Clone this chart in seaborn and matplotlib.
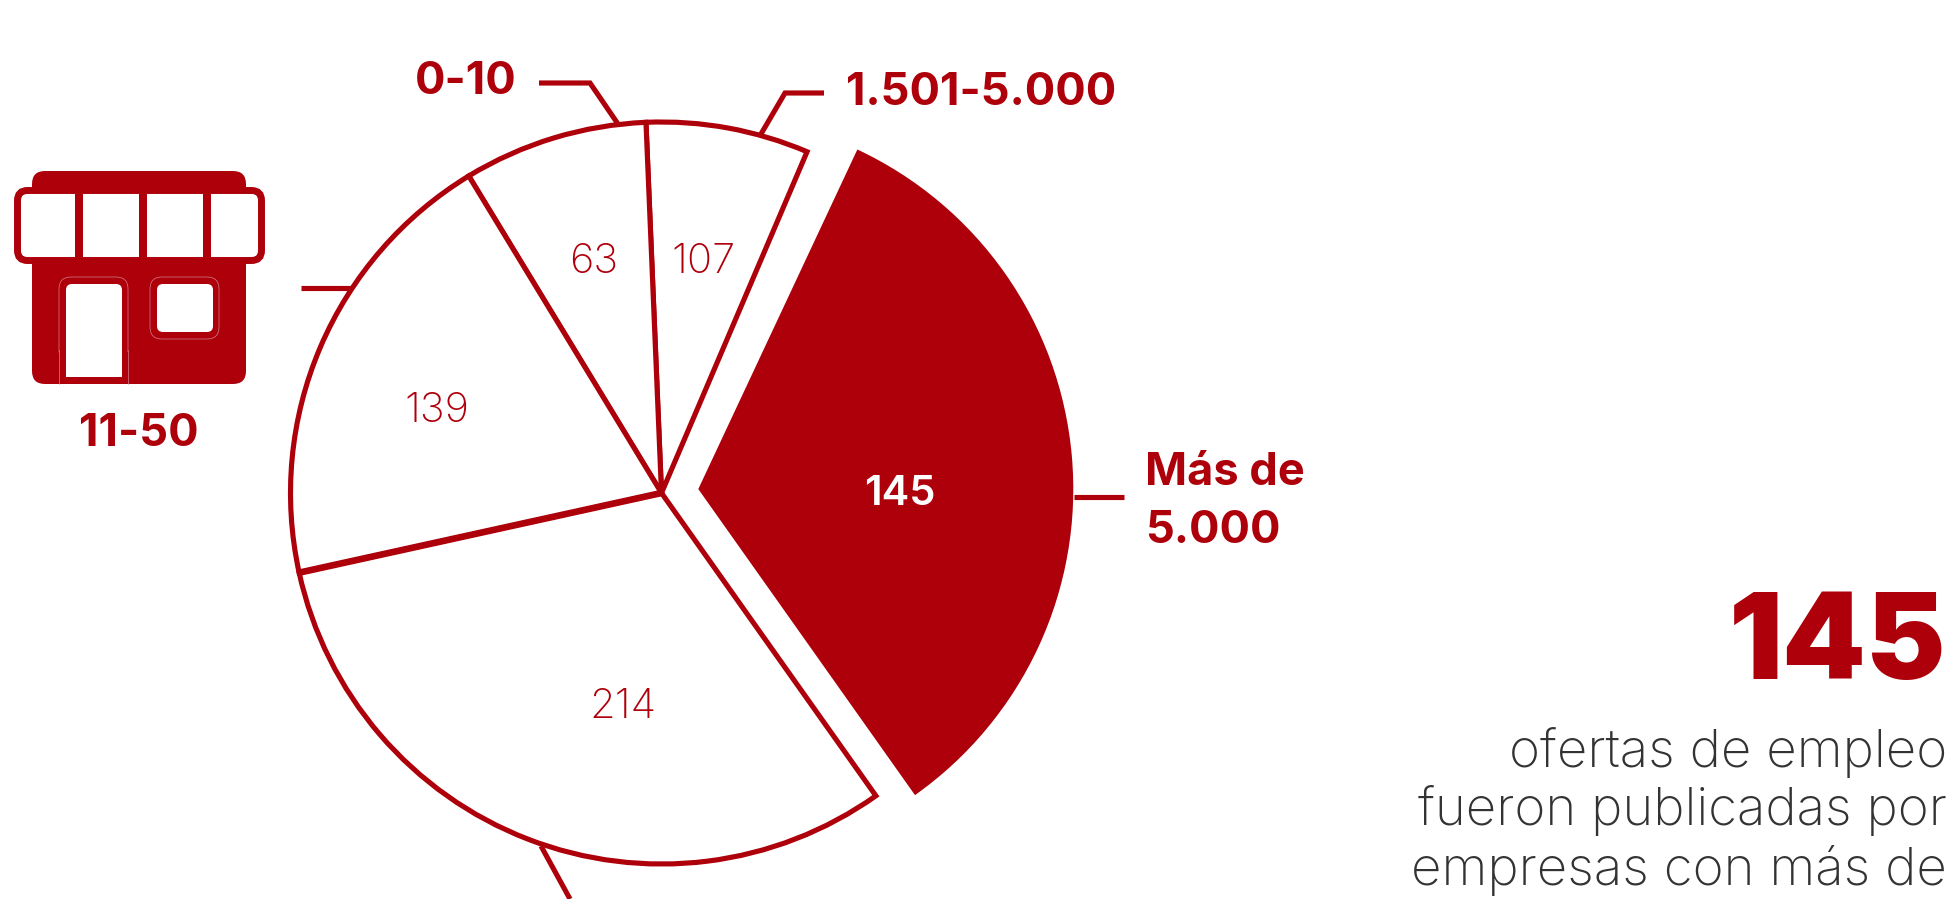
import numpy as np
import pandas as pd
import matplotlib
matplotlib.use('Agg')
import matplotlib.pyplot as plt
from matplotlib.patches import FancyBboxPatch, Rectangle
import seaborn as sns

# values printed on the slices, counterclockwise from the highlighted one
bands = ['Más de\n5.000', '1.501-5.000', '0-10', '11-50', '51-200']
offers = [145, 107, 63, 139, 214]
# the slices in the reference are not proportional to the printed numbers,
# so their share of the circle is read off the picture (degrees)
sweep_deg = [121.6, 25.5, 28.9, 71.1, 112.9]

RED = '#ae000a'
GREY = '#333333'
PINK = '#d9808a'
FONT = 'Inter'

sns.set_theme(style='white')
plt.rcParams['font.family'] = [FONT, 'DejaVu Sans']

W, H = 1948, 899
fig = plt.figure(figsize=(W / 100, H / 100), dpi=100, facecolor='white')
ax = fig.add_axes([0, 0, 1, 1])


def py(y):
    # picture rows run downwards, the axes run upwards
    return H - y


CX, CY, R = 661.5, py(493), 371
START = -54.7

df = pd.DataFrame({'band': bands, 'offers': offers, 'sweep': sweep_deg})
wedges, _ = ax.pie(df['sweep'], explode=[37, 0, 0, 0, 0], center=(CX, CY), radius=R,
                   startangle=START, counterclock=True, frame=True,
                   colors=[RED] + ['white'] * 4,
                   wedgeprops={'edgecolor': RED, 'linewidth': 3.7, 'joinstyle': 'miter'})
# highlighted slice: no outline, a bit bigger, and its top edge stops short of the next slice
wedges[0].set_linewidth(0)
wedges[0].set_radius(375)
wedges[0].set_theta2(64.9)

# spoke between 139 and 214 is drawn heavier in the reference
spoke = np.deg2rad(START + sum(sweep_deg[:4]))
ax.plot([CX, CX + R * np.cos(spoke)], [CY, CY + R * np.sin(spoke)], color=RED, lw=4.8,
        solid_capstyle='butt')

ax.set_xlim(0, W)
ax.set_ylim(0, H)
ax.set_aspect('equal')
ax.axis('off')

# numbers inside slices
ax.text(900, py(494), str(offers[0]), color='white', fontsize=30, fontweight='semibold', ha='center', va='center')
ax.text(703, py(262), str(offers[1]), color=RED, fontsize=30, fontweight='light', ha='center', va='center')
ax.text(594, py(262), str(offers[2]), color=RED, fontsize=30, fontweight='light', ha='center', va='center')
ax.text(437, py(411), str(offers[3]), color=RED, fontsize=30, fontweight='light', ha='center', va='center')
ax.text(623, py(707), str(offers[4]), color=RED, fontsize=30, fontweight='light', ha='center', va='center')

# outside labels and leaders
ax.text(466, py(82), bands[2], color=RED, fontsize=32.5, fontweight='bold', ha='center', va='center')
ax.text(981, py(93), bands[1], color=RED, fontsize=32.5, fontweight='bold', ha='center', va='center')
ax.text(139, py(434), bands[3], color=RED, fontsize=32.5, fontweight='bold', ha='center', va='center')
ax.text(1145, py(502), bands[0], color=RED, fontsize=32.5, fontweight='bold', ha='left', va='center', linespacing=1.46)

leaders = [([539, 590, 618], [83, 83, 124]),
           ([824, 785, 761], [93, 93, 134]),
           ([301, 352], [288, 288]),
           ([1074, 1124], [497, 497]),
           ([541, 570], [846, 899])]
for xs, ys in leaders:
    ax.plot(xs, [py(v) for v in ys], color=RED, lw=3.7, solid_joinstyle='miter', solid_capstyle='butt')

# shop icon
ax.add_patch(FancyBboxPatch((32 + 13, py(384) + 13), 214 - 26, 213 - 26, boxstyle='round,pad=13', fc=RED, ec='none'))
ax.add_patch(FancyBboxPatch((17.5 + 10, py(260.5) + 10), 244 - 20, 70 - 20, boxstyle='round,pad=10', fc='white', ec=RED, lw=5))
for x in (79, 143, 207):
    ax.add_patch(Rectangle((x - 4.3, py(262)), 8.6, 72, fc=RED, ec='none'))
# thin outlines round the door and window
ax.add_patch(FancyBboxPatch((59 + 12, py(350)), 69 - 24, 61, boxstyle='round,pad=12', fc='none', ec=PINK, lw=0.5))
ax.add_patch(Rectangle((59, py(372)), 69, 20, fc=RED, ec='none'))
ax.plot([59, 59], [py(384), py(350)], color=PINK, lw=0.5)
ax.plot([128, 128], [py(384), py(350)], color=PINK, lw=0.5)
ax.add_patch(FancyBboxPatch((150 + 12, py(339) + 12), 69 - 24, 62 - 24, boxstyle='round,pad=12', fc='none', ec=PINK, lw=0.5))
# door and window
ax.add_patch(FancyBboxPatch((66 + 6, py(377) + 6), 56 - 12, 93 - 12, boxstyle='round,pad=6', fc='white', ec='none'))
ax.add_patch(Rectangle((66, py(377)), 56, 20, fc='white', ec='none'))
ax.add_patch(FancyBboxPatch((157 + 6, py(332) + 6), 56 - 12, 48 - 12, boxstyle='round,pad=6', fc='white', ec='none'))

# call-out text at the right edge like the reference
ax.text(1946, py(648), str(offers[0]), color=RED, fontsize=86, fontweight='black', ha='right', va='center')
for y, line in zip([753, 811, 871], ['ofertas de empleo', 'fueron publicadas por', 'empresas con más de']):
    ax.text(1947, py(y), line, color=GREY, fontsize=38, fontweight='light', ha='right', va='center')

plt.savefig('out.png', dpi=100)
